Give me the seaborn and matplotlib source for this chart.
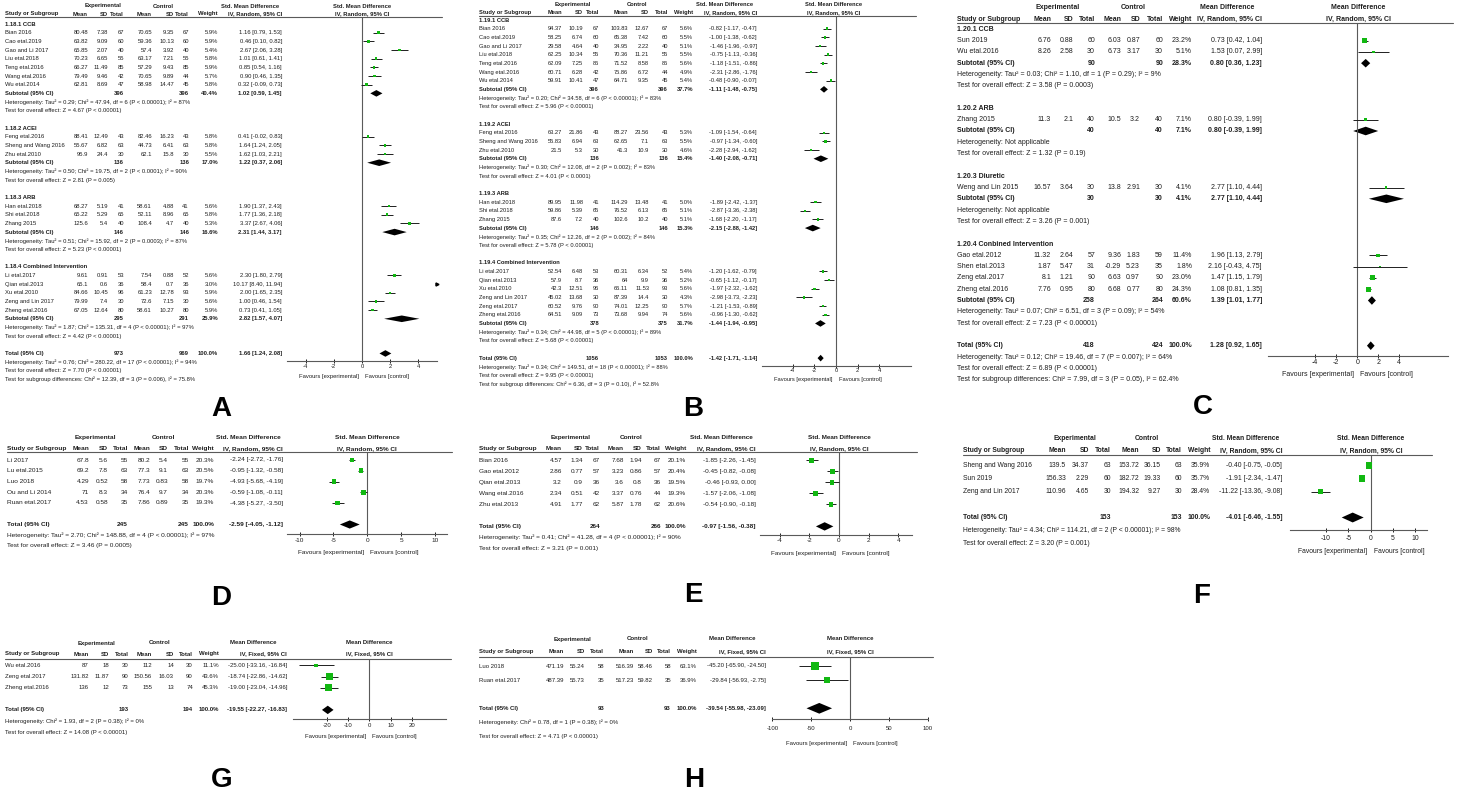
import matplotlib
matplotlib.use("Agg")
import matplotlib.pyplot as plt
import seaborn as sns
from matplotlib import font_manager

sns.set_style("white")

installed = {f.name for f in font_manager.fontManager.ttflist}
if "Liberation Sans Narrow" in installed:
    TABLE_FONT, FS_SCALE = "Liberation Sans Narrow", 1.0
else:
    TABLE_FONT, FS_SCALE = "Liberation Sans", 0.82
plt.rcParams["font.family"] = [TABLE_FONT, "DejaVu Sans"]
plt.rcParams["axes.unicode_minus"] = False

GREEN = "#12b812"
INK = "#1e1e1e"
RULE = "#5a5a5a"
W, H = 1462, 798

SMD = "Std. Mean Difference"
MD = "Mean Difference"
RANDOM = "IV, Random, 95% CI"
FIXED = "IV, Fixed, 95% CI"

# ---------------- panel A ----------------
a_group = [0] * 7 + [1] * 3 + [2] * 3 + [3] * 5
a_study = ["Bian 2016", "Cao etal.2019", "Gao and Li 2017", "Liu etal.2018", "Teng etal.2016",
           "Wang etal.2016", "Wu etal.2014", "Feng etal.2016", "Sheng and Wang 2016", "Zhu etal.2010",
           "Han etal.2018", "Shi etal.2018", "Zhang 2015", "Li etal.2017", "Qian etal.2013",
           "Xu etal.2010", "Zeng and Lin 2017", "Zheng etal.2016"]
a_exp = [(80.48, 7.38, 67), (63.82, 9.09, 60), (65.85, 2.07, 40), (70.23, 6.65, 55), (66.27, 11.49, 85),
         (79.49, 9.46, 42), (62.81, 8.69, 47), (88.41, 12.49, 43), (55.67, 6.82, 63), (95.9, 24.4, 30),
         (68.27, 5.19, 41), (65.22, 5.29, 65), (125.6, 5.4, 40), (9.61, 0.91, 53), (65.1, 0.6, 36),
         (84.66, 10.45, 96), (79.99, 7.4, 30), (67.05, 12.64, 80)]
a_ctl = [(70.65, 9.35, 67), (59.36, 10.13, 60), (57.4, 3.92, 40), (63.17, 7.21, 55), (57.29, 9.43, 85),
         (70.65, 9.89, 44), (58.98, 14.47, 45), (82.46, 16.23, 43), (44.73, 6.41, 63), (62.1, 15.8, 30),
         (58.61, 4.88, 41), (52.11, 8.96, 65), (108.4, 4.7, 40), (7.54, 0.88, 52), (58.4, 0.7, 36),
         (61.23, 12.78, 93), (72.6, 7.15, 30), (58.61, 10.27, 80)]
a_weight = [5.9, 5.9, 5.4, 5.8, 5.9, 5.7, 5.8, 5.8, 5.8, 5.5, 5.6, 5.8, 5.3, 5.6, 3.0, 5.9, 5.6, 5.9]
a_est = [1.16, 0.46, 2.67, 1.01, 0.85, 0.90, 0.32, 0.41, 1.64, 1.62, 1.90, 1.77, 3.37, 2.30, 10.17,
         2.00, 1.00, 0.73]
a_ci = [(0.79, 1.53), (0.10, 0.82), (2.06, 3.28), (0.61, 1.41), (0.54, 1.16), (0.46, 1.35), (-0.09, 0.73),
        (-0.02, 0.83), (1.24, 2.05), (1.03, 2.21), (1.37, 2.43), (1.36, 2.18), (2.67, 4.06), (1.80, 2.79),
        (8.40, 11.94), (1.65, 2.35), (0.46, 1.54), (0.41, 1.05)]
a_sub_name = ["1.18.1 CCB", "1.18.2 ACEI", "1.18.3 ARB", "1.18.4 Combined Intervention"]
a_sub_n = [(396, 396), (136, 136), (146, 146), (295, 291)]
a_sub_w = [40.4, 17.0, 16.6, 25.9]
a_sub_est = [1.02, 1.22, 2.31, 2.82]
a_sub_ci = [(0.59, 1.45), (0.37, 2.06), (1.44, 3.17), (1.57, 4.07)]
a_sub_het = ["Heterogeneity: Tau² = 0.29; Chi² = 47.94, df = 6 (P < 0.00001); I² = 87%",
             "Heterogeneity: Tau² = 0.50; Chi² = 19.75, df = 2 (P < 0.0001); I² = 90%",
             "Heterogeneity: Tau² = 0.51; Chi² = 15.92, df = 2 (P = 0.0003); I² = 87%",
             "Heterogeneity: Tau² = 1.87; Chi² = 135.31, df = 4 (P < 0.00001); I² = 97%"]
a_sub_z = ["Test for overall effect: Z = 4.67 (P < 0.00001)", "Test for overall effect: Z = 2.81 (P = 0.005)",
           "Test for overall effect: Z = 5.23 (P < 0.00001)", "Test for overall effect: Z = 4.42 (P < 0.00001)"]
a_tot = (973, 969, 1.66, 1.24, 2.08)
a_tot_het = "Heterogeneity: Tau² = 0.76; Chi² = 280.22, df = 17 (P < 0.00001); I² = 94%"
a_tot_z = "Test for overall effect: Z = 7.70 (P < 0.00001)"
a_sgd = "Test for subgroup differences: Chi² = 12.39, df = 3 (P = 0.006), I² = 75.8%"

# ---------------- panel B ----------------
b_group = [0] * 7 + [1] * 3 + [2] * 3 + [3] * 6
b_study = ["Bian 2016", "Cao etal.2019", "Gao and Li 2017", "Liu etal.2018", "Teng etal.2016",
           "Wang etal.2016", "Wu etal.2014", "Feng etal.2016", "Sheng and Wang 2016", "Zhu etal.2010",
           "Han etal.2018", "Shi etal.2018", "Zhang 2015", "Li etal.2017", "Qian etal.2013",
           "Xu etal.2010", "Zeng and Lin 2017", "Zeng etal.2017", "Zheng etal.2016"]
b_exp = [(94.37, 10.19, 67), (58.25, 6.74, 60), (29.58, 4.64, 40), (62.25, 10.34, 55), (62.09, 7.25, 85),
         (60.71, 6.28, 42), (59.91, 10.41, 47), (63.27, 21.86, 43), (55.83, 6.94, 63), (21.5, 5.3, 30),
         (89.95, 11.98, 41), (59.86, 5.39, 65), (87.6, 7.2, 40), (52.54, 6.48, 53), (57.9, 8.7, 36),
         (42.3, 12.51, 96), (45.02, 13.68, 30), (60.52, 9.76, 90), (64.51, 9.09, 73)]
b_ctl = [(103.83, 12.67, 67), (65.38, 7.42, 60), (34.95, 2.22, 40), (70.36, 11.21, 55), (71.52, 8.58, 85),
         (75.86, 6.72, 44), (64.71, 9.35, 45), (88.27, 23.56, 43), (62.65, 7.1, 63), (41.3, 10.9, 30),
         (114.29, 13.48, 41), (76.52, 6.13, 65), (102.6, 10.2, 40), (60.31, 6.34, 52), (64, 9.9, 36),
         (66.11, 11.53, 93), (87.39, 14.4, 30), (74.01, 12.25, 90), (73.68, 9.94, 74)]
b_weight = [5.6, 5.5, 5.1, 5.5, 5.6, 4.9, 5.4, 5.3, 5.5, 4.6, 5.0, 5.1, 5.1, 5.4, 5.2, 5.6, 4.3, 5.7, 5.6]
b_est = [-0.82, -1.00, -1.46, -0.75, -1.18, -2.31, -0.48, -1.09, -0.97, -2.28, -1.89, -2.87, -1.68,
         -1.20, -0.65, -1.97, -2.98, -1.21, -0.96]
b_ci = [(-1.17, -0.47), (-1.38, -0.62), (-1.96, -0.97), (-1.13, -0.36), (-1.51, -0.86), (-2.86, -1.76),
        (-0.90, -0.07), (-1.54, -0.64), (-1.34, -0.60), (-2.94, -1.62), (-2.42, -1.37), (-3.36, -2.38),
        (-2.20, -1.17), (-1.62, -0.79), (-1.12, -0.17), (-2.32, -1.62), (-3.73, -2.23), (-1.53, -0.89),
        (-1.30, -0.62)]
b_sub_name = ["1.19.1 CCB", "1.19.2 ACEI", "1.19.3 ARB", "1.19.4 Combined Intervention"]
b_sub_n = [(396, 396), (136, 136), (146, 146), (378, 375)]
b_sub_w = [37.7, 15.4, 15.3, 31.7]
b_sub_est = [-1.11, -1.40, -2.15, -1.44]
b_sub_ci = [(-1.48, -0.75), (-2.08, -0.71), (-2.88, -1.42), (-1.94, -0.95)]
b_sub_het = ["Heterogeneity: Tau² = 0.20; Chi² = 34.58, df = 6 (P < 0.00001); I² = 83%",
             "Heterogeneity: Tau² = 0.30; Chi² = 12.08, df = 2 (P = 0.002); I² = 83%",
             "Heterogeneity: Tau² = 0.35; Chi² = 12.26, df = 2 (P = 0.002); I² = 84%",
             "Heterogeneity: Tau² = 0.34; Chi² = 44.98, df = 5 (P < 0.00001); I² = 89%"]
b_sub_z = ["Test for overall effect: Z = 5.96 (P < 0.00001)", "Test for overall effect: Z = 4.01 (P < 0.0001)",
           "Test for overall effect: Z = 5.78 (P < 0.00001)", "Test for overall effect: Z = 5.68 (P < 0.00001)"]
b_tot = (1056, 1053, -1.42, -1.71, -1.14)
b_tot_het = "Heterogeneity: Tau² = 0.34; Chi² = 149.51, df = 18 (P < 0.00001); I² = 88%"
b_tot_z = "Test for overall effect: Z = 9.95 (P < 0.00001)"
b_sgd = "Test for subgroup differences: Chi² = 6.36, df = 3 (P = 0.10), I² = 52.8%"

# ---------------- panel C ----------------
c_group = [0, 0, 1, 2, 3, 3, 3, 3]
c_study = ["Sun 2019", "Wu etal.2016", "Zhang 2015", "Weng and Lin 2015", "Gao etal.2012",
           "Shen etal.2013", "Zeng etal.2017", "Zheng etal.2016"]
c_exp = [(6.76, 0.88, 60), (8.26, 2.58, 30), (11.3, 2.1, 40), (16.57, 3.64, 30), (11.32, 2.64, 57),
         (1.87, 5.47, 31), (8.1, 1.21, 90), (7.76, 0.95, 80)]
c_ctl = [(6.03, 0.87, 60), (6.73, 3.17, 30), (10.5, 3.2, 40), (13.8, 2.91, 30), (9.36, 1.83, 59),
         (-0.29, 5.23, 35), (6.63, 0.97, 90), (6.68, 0.77, 80)]
c_weight = [23.2, 5.1, 7.1, 4.1, 11.4, 1.8, 23.0, 24.3]
c_est = [0.73, 1.53, 0.80, 2.77, 1.96, 2.16, 1.47, 1.08]
c_ci = [(0.42, 1.04), (0.07, 2.99), (-0.39, 1.99), (1.10, 4.44), (1.13, 2.79), (-0.43, 4.75),
        (1.15, 1.79), (0.81, 1.35)]
c_sub_name = ["1.20.1 CCB", "1.20.2 ARB", "1.20.3 Diuretic", "1.20.4 Conbined Intervention"]
c_sub_n = [(90, 90), (40, 40), (30, 30), (258, 264)]
c_sub_w = [28.3, 7.1, 4.1, 60.6]
c_sub_est = [0.80, 0.80, 2.77, 1.39]
c_sub_ci = [(0.36, 1.23), (-0.39, 1.99), (1.10, 4.44), (1.01, 1.77)]
c_sub_het = ["Heterogeneity: Tau² = 0.03; Chi² = 1.10, df = 1 (P = 0.29); I² = 9%",
             "Heterogeneity: Not applicable", "Heterogeneity: Not applicable",
             "Heterogeneity: Tau² = 0.07; Chi² = 6.51, df = 3 (P = 0.09); I² = 54%"]
c_sub_z = ["Test for overall effect: Z = 3.58 (P = 0.0003)", "Test for overall effect: Z = 1.32 (P = 0.19)",
           "Test for overall effect: Z = 3.26 (P = 0.001)", "Test for overall effect: Z = 7.23 (P < 0.00001)"]
c_tot = (418, 424, 1.28, 0.92, 1.65)
c_tot_het = "Heterogeneity: Tau² = 0.12; Chi² = 19.46, df = 7 (P = 0.007); I² = 64%"
c_tot_z = "Test for overall effect: Z = 6.89 (P < 0.00001)"
c_sgd = "Test for subgroup differences: Chi² = 7.99, df = 3 (P = 0.05), I² = 62.4%"

# ---------------- panel D ----------------
d_study = ["Li 2017", "Lu etal.2015", "Luo 2018", "Ou and Li 2014", "Ruan etal.2017"]
d_exp = [(67.8, 5.6, 55), (69.2, 7.8, 63), (4.29, 0.52, 58), (71, 8.3, 34), (4.53, 0.58, 35)]
d_ctl = [(80.2, 5.4, 55), (77.3, 9.1, 63), (7.73, 0.83, 58), (76.4, 9.7, 34), (7.86, 0.89, 35)]
d_weight = [20.3, 20.5, 19.7, 20.3, 19.3]
d_est = [-2.24, -0.95, -4.93, -0.59, -4.38]
d_ci = [(-2.72, -1.76), (-1.32, -0.58), (-5.68, -4.19), (-1.08, -0.11), (-5.27, -3.50)]
d_tot = (245, 245, -2.59, -4.05, -1.12)
d_tot_het = "Heterogeneity: Tau² = 2.70; Chi² = 148.88, df = 4 (P < 0.00001); I² = 97%"
d_tot_z = "Test for overall effect: Z = 3.46 (P = 0.0005)"

# ---------------- panel E ----------------
e_study = ["Bian 2016", "Gao etal.2012", "Qian etal.2013", "Wang etal.2016", "Zhu etal.2013"]
e_exp = [(4.57, 1.34, 67), (2.86, 0.77, 57), (3.2, 0.9, 36), (2.34, 0.51, 42), (4.91, 1.77, 62)]
e_ctl = [(7.68, 1.94, 67), (3.23, 0.86, 57), (3.6, 0.8, 36), (3.37, 0.76, 44), (5.87, 1.78, 62)]
e_weight = [20.1, 20.4, 19.5, 19.3, 20.6]
e_est = [-1.85, -0.45, -0.46, -1.57, -0.54]
e_ci = [(-2.26, -1.45), (-0.82, -0.08), (-0.93, 0.00), (-2.06, -1.08), (-0.90, -0.18)]
e_tot = (264, 266, -0.97, -1.56, -0.38)
e_tot_het = "Heterogeneity: Tau² = 0.41; Chi² = 41.28, df = 4 (P < 0.00001); I² = 90%"
e_tot_z = "Test for overall effect: Z = 3.21 (P = 0.001)"

# ---------------- panel F ----------------
f_study = ["Sheng and Wang 2016", "Sun 2019", "Zeng and Lin 2017"]
f_exp = [(139.5, 34.37, 63), (156.33, 2.29, 60), (110.96, 4.65, 30)]
f_ctl = [(153.72, 36.15, 63), (182.72, 19.33, 60), (194.32, 9.27, 30)]
f_weight = [35.9, 35.7, 28.4]
f_est = [-0.40, -1.91, -11.22]
f_ci = [(-0.75, -0.05), (-2.34, -1.47), (-13.36, -9.08)]
f_tot = (153, 153, -4.01, -6.46, -1.55)
f_tot_het = "Heterogeneity: Tau² = 4.34; Chi² = 114.21, df = 2 (P < 0.00001); I² = 98%"
f_tot_z = "Test for overall effect: Z = 3.20 (P = 0.001)"

# ---------------- panel G ----------------
g_study = ["Wu etal.2016", "Zeng etal.2017", "Zheng etal.2016"]
g_exp = [(87, 18, 30), (131.82, 11.87, 90), (136, 12, 73)]
g_ctl = [(112, 14, 30), (150.56, 16.03, 90), (155, 13, 74)]
g_weight = [11.1, 43.6, 45.3]
g_est = [-25.00, -18.74, -19.00]
g_ci = [(-33.16, -16.84), (-22.86, -14.62), (-23.04, -14.96)]
g_tot = (193, 194, -19.55, -22.27, -16.83)
g_tot_het = "Heterogeneity: Chi² = 1.93, df = 2 (P = 0.38); I² = 0%"
g_tot_z = "Test for overall effect: Z = 14.08 (P < 0.00001)"

# ---------------- panel H ----------------
h_study = ["Luo 2018", "Ruan etal.2017"]
h_exp = [(471.19, 55.24, 58), (487.39, 55.73, 35)]
h_ctl = [(516.39, 58.46, 58), (517.23, 59.82, 35)]
h_weight = [63.1, 36.9]
h_est = [-45.20, -29.84]
h_ci = [(-65.90, -24.50), (-56.93, -2.75)]
h_tot = (93, 93, -39.54, -55.98, -23.09)
h_tot_het = "Heterogeneity: Chi² = 0.78, df = 1 (P = 0.38); I² = 0%"
h_tot_z = "Test for overall effect: Z = 4.71 (P < 0.00001)"


def panel_data(study, exp, ctl, weight, est, ci, tot, tot_het, tot_z, measure, method,
               group=None, sub_name=None, sub_n=None, sub_w=None, sub_est=None, sub_ci=None,
               sub_het=None, sub_z=None, sgd=None):
    return dict(study=study, exp=exp, ctl=ctl, weight=weight, est=est, ci=ci, tot=tot,
                tot_het=tot_het, tot_z=tot_z, measure=measure, method=method, group=group,
                sub_name=sub_name, sub_n=sub_n, sub_w=sub_w, sub_est=sub_est, sub_ci=sub_ci,
                sub_het=sub_het, sub_z=sub_z, sgd=sgd)


# pixel layout of each panel (positions only)
layouts = {
    "A": dict(x0=5, cols=[88, 108, 124, 152, 174, 189, 218, 282], exp_c=103, ctl_c=163, eff_c=250, plot_c=362,
              h1=6, h2=14, hline=17, y0=24, step=8.67, px=(287, 437), zero=362, ppu=14.1,
              ticks=[-4, -2, 0, 2, 4], axis_y=360.7, tick_off=7, fav_off=16, fs=5.2, letter=(221, 409)),
    "B": dict(x0=479, cols=[562, 583, 599, 628, 649, 668, 693, 757], exp_c=573, ctl_c=637, eff_c=725,
              plot_c=834, h1=4.5, h2=12.7, hline=15.5, y0=20, step=8.67, px=(762, 911), zero=836, ppu=10.8,
              ticks=[-4, -2, 0, 2, 4], axis_y=365.7, tick_off=5.8, fav_off=13.6, fs=5.1, letter=(693, 409)),
    "C": dict(x0=957, cols=[1051, 1073, 1095, 1121, 1140, 1163, 1192, 1262], exp_c=1058, ctl_c=1133,
              eff_c=1227, plot_c=1358, h1=7.3, h2=19.3, hline=22.7, y0=29.3, step=11.3, px=(1268, 1448),
              zero=1357.3, ppu=10.5, ticks=[-4, -2, 0, 2, 4], axis_y=355.7, tick_off=7.3, fav_off=18.3,
              fs=6.2, letter=(1203, 407)),
    "D": dict(x0=7, cols=[89, 108, 128, 150, 168, 189, 214, 283], exp_c=95, ctl_c=163, eff_c=248, plot_c=367,
              h1=437.3, h2=448.3, hline=451.7, y0=460, step=10.75, px=(287, 447), zero=367.3, ppu=6.78,
              ticks=[-10, -5, 0, 5, 10], axis_y=534, tick_off=7.7, fav_off=18.7, fs=5.7, letter=(221, 598)),
    "E": dict(x0=479, cols=[562, 583, 600, 624, 642, 661, 686, 756], exp_c=571, ctl_c=631, eff_c=721,
              plot_c=839, h1=437.3, h2=448.6, hline=452.3, y0=460.4, step=11.0, px=(760, 912), zero=839,
              ppu=14.8, ticks=[-4, -2, 0, 2, 4], axis_y=534.5, tick_off=7.5, fav_off=19.5, fs=5.6,
              letter=(693, 595)),
    "F": dict(x0=963, cols=[1066, 1089, 1111, 1139, 1161, 1182, 1210, 1282], exp_c=1075, ctl_c=1147,
              eff_c=1246, plot_c=1371, h1=438, h2=451, hline=455, y0=465.5, step=13, px=(1289.5, 1426.6),
              zero=1370.6, ppu=4.47, ticks=[-10, -5, 0, 5, 10], axis_y=530.4, tick_off=8, fav_off=21,
              fs=5.9, letter=(1202, 596)),
    "G": dict(x0=5, cols=[88.6, 109, 128.7, 152, 174, 193, 219, 287], exp_c=96, ctl_c=160, eff_c=253,
              plot_c=369, h1=643, h2=654, hline=659, y0=665.5, step=11.1, px=(292.7, 446), zero=369.3,
              ppu=2.125, ticks=[-20, -10, 0, 10, 20], axis_y=719.3, tick_off=6.7, fav_off=17.4, fs=5.3,
              letter=(222, 780)),
    "H": dict(x0=479, cols=[564, 585, 604, 634, 652.7, 671, 697, 766], exp_c=572, ctl_c=638, eff_c=732,
              plot_c=850, h1=639, h2=651.7, hline=656.7, y0=666, step=14.1, px=(771.7, 928.3), zero=850,
              ppu=0.777, ticks=[-100, -50, 0, 50, 100], axis_y=719.3, tick_off=10, fav_off=24, fs=5.3,
              letter=(694, 780)),
}

panels = {
    "A": panel_data(a_study, a_exp, a_ctl, a_weight, a_est, a_ci, a_tot, a_tot_het, a_tot_z, SMD, RANDOM,
                    a_group, a_sub_name, a_sub_n, a_sub_w, a_sub_est, a_sub_ci, a_sub_het, a_sub_z, a_sgd),
    "B": panel_data(b_study, b_exp, b_ctl, b_weight, b_est, b_ci, b_tot, b_tot_het, b_tot_z, SMD, RANDOM,
                    b_group, b_sub_name, b_sub_n, b_sub_w, b_sub_est, b_sub_ci, b_sub_het, b_sub_z, b_sgd),
    "C": panel_data(c_study, c_exp, c_ctl, c_weight, c_est, c_ci, c_tot, c_tot_het, c_tot_z, MD, RANDOM,
                    c_group, c_sub_name, c_sub_n, c_sub_w, c_sub_est, c_sub_ci, c_sub_het, c_sub_z, c_sgd),
    "D": panel_data(d_study, d_exp, d_ctl, d_weight, d_est, d_ci, d_tot, d_tot_het, d_tot_z, SMD, RANDOM),
    "E": panel_data(e_study, e_exp, e_ctl, e_weight, e_est, e_ci, e_tot, e_tot_het, e_tot_z, SMD, RANDOM),
    "F": panel_data(f_study, f_exp, f_ctl, f_weight, f_est, f_ci, f_tot, f_tot_het, f_tot_z, SMD, RANDOM),
    "G": panel_data(g_study, g_exp, g_ctl, g_weight, g_est, g_ci, g_tot, g_tot_het, g_tot_z, MD, FIXED),
    "H": panel_data(h_study, h_exp, h_ctl, h_weight, h_est, h_ci, h_tot, h_tot_het, h_tot_z, MD, FIXED),
}


def build_rows(d):
    rows = []
    if d["sub_name"]:
        for g in range(len(d["sub_name"])):
            rows.append(("group", g))
            rows += [("study", i) for i, gi in enumerate(d["group"]) if gi == g]
            rows += [("subtotal", g), ("text", d["sub_het"][g]), ("text", d["sub_z"][g]), ("blank", None)]
    else:
        rows += [("study", i) for i in range(len(d["study"]))]
        rows.append(("blank", None))
    rows += [("total", None), ("text", d["tot_het"]), ("text", d["tot_z"])]
    if d["sgd"]:
        rows.append(("text", d["sgd"]))
    return rows


def ci_text(est, lo, hi):
    return f"{est:.2f} [{lo:.2f}, {hi:.2f}]"


def draw_panel(fig, T, name, d, g):
    fs = g["fs"] * FS_SCALE
    x0, cols = g["x0"], g["cols"]

    def txt(x, y, s, ha="left", bold=False):
        T.text(x, y, s, ha=ha, va="center", fontsize=fs, color=INK,
               fontweight="bold" if bold else "normal")

    # header block
    txt(g["exp_c"], g["h1"], "Experimental", "center", True)
    txt(g["ctl_c"], g["h1"], "Control", "center", True)
    txt(g["eff_c"], g["h1"], d["measure"], "center", True)
    txt(g["plot_c"], g["h1"], d["measure"], "center", True)
    txt(x0, g["h2"], "Study or Subgroup", bold=True)
    for x, s in zip(cols, ["Mean", "SD", "Total", "Mean", "SD", "Total", "Weight", d["method"]]):
        txt(x, g["h2"], s, "right", True)
    txt(g["plot_c"], g["h2"], d["method"], "center", True)
    T.plot([x0, g["px"][1] + 5], [g["hline"], g["hline"]], color=RULE, lw=0.8)

    # forest axes, y measured in figure pixels from the top
    l, r = g["px"]
    xlim = ((l - g["zero"]) / g["ppu"], (r - g["zero"]) / g["ppu"])
    ax = fig.add_axes([l / W, 1 - g["axis_y"] / H, (r - l) / W, (g["axis_y"] - g["hline"]) / H])
    ax.set_facecolor("none")

    rows = build_rows(d)
    step = g["step"]
    sq_x, sq_y, sq_w = [], [], []
    for i, (kind, k) in enumerate(rows):
        y = g["y0"] + i * step
        if kind == "group":
            txt(x0, y, d["sub_name"][k], bold=True)
        elif kind == "text":
            txt(x0, y, k)
        elif kind == "study":
            em, esd, en = d["exp"][k]
            cm, csd, cn = d["ctl"][k]
            lo, hi = d["ci"][k]
            vals = [f"{em:g}", f"{esd:g}", f"{en}", f"{cm:g}", f"{csd:g}", f"{cn}",
                    f"{d['weight'][k]:.1f}%", ci_text(d["est"][k], lo, hi)]
            txt(x0, y, d["study"][k])
            for x, s in zip(cols, vals):
                txt(x, y, s, "right")
            ax.plot([lo, hi], [y, y], color=INK, lw=0.7, solid_capstyle="butt")
            if lo > xlim[1]:
                ax.plot([xlim[1]], [y], marker=">", ms=2.2, color="black", clip_on=False)
            sq_x.append(d["est"][k])
            sq_y.append(y)
            sq_w.append(d["weight"][k])
        elif kind in ("subtotal", "total"):
            if kind == "subtotal":
                ne, nc = d["sub_n"][k]
                w, est = d["sub_w"][k], d["sub_est"][k]
                lo, hi = d["sub_ci"][k]
                label = "Subtotal (95% CI)"
            else:
                ne, nc, est, lo, hi = d["tot"]
                w = 100.0
                label = "Total (95% CI)"
            txt(x0, y, label, bold=True)
            txt(cols[2], y, str(ne), "right", True)
            txt(cols[5], y, str(nc), "right", True)
            txt(cols[6], y, f"{w:.1f}%", "right", True)
            txt(cols[7], y, ci_text(est, lo, hi), "right", True)
            hh = 0.38 * step
            ax.fill([lo, est, hi, est], [y, y - hh, y, y + hh], color="black", lw=0)

    sns.scatterplot(x=sq_x, y=sq_y, size=sq_w, sizes=(0, 56), size_norm=(0, 100), marker="s",
                    color=GREEN, linewidth=0, legend=False, ax=ax, zorder=3)
    ax.axvline(0, color=RULE, lw=0.8, zorder=1)
    ax.set_xlim(xlim)
    ax.set_ylim(g["axis_y"], g["hline"])
    ax.set_xlabel("")
    ax.set_ylabel("")
    ax.set_yticks([])
    for s in ("top", "right", "left"):
        ax.spines[s].set_visible(False)
    ax.spines["bottom"].set_color(RULE)
    ax.spines["bottom"].set_linewidth(0.8)
    ax.set_xticks(g["ticks"])
    ax.set_xticklabels([f"{t:g}" for t in g["ticks"]])
    pad = max(0.0, g["tick_off"] * 0.72 - 1.5 - 0.55 * fs)
    ax.tick_params(axis="x", direction="inout", length=3, width=0.7, pad=pad, labelsize=fs,
                   colors=INK, bottom=True)
    ax.annotate("Favours [experimental]", xy=(0, 0), xycoords=("data", "axes fraction"),
                xytext=(-3, -g["fav_off"]), textcoords="offset pixels", ha="right", va="center",
                fontsize=fs, color=INK)
    ax.annotate("Favours [control]", xy=(0, 0), xycoords=("data", "axes fraction"),
                xytext=(3, -g["fav_off"]), textcoords="offset pixels", ha="left", va="center",
                fontsize=fs, color=INK)

    lx, ly = g["letter"]
    T.text(lx, ly, name, ha="center", va="center", fontsize=20, fontweight="bold",
           family=["Liberation Sans", "DejaVu Sans"], color="black")


fig = plt.figure(figsize=(W / 100, H / 100), dpi=100)
T = fig.add_axes([0, 0, 1, 1])
T.set_xlim(0, W)
T.set_ylim(H, 0)
T.axis("off")

for name in "ABCDEFGH":
    draw_panel(fig, T, name, panels[name], layouts[name])

fig.savefig("out.png", dpi=100, facecolor="white")
